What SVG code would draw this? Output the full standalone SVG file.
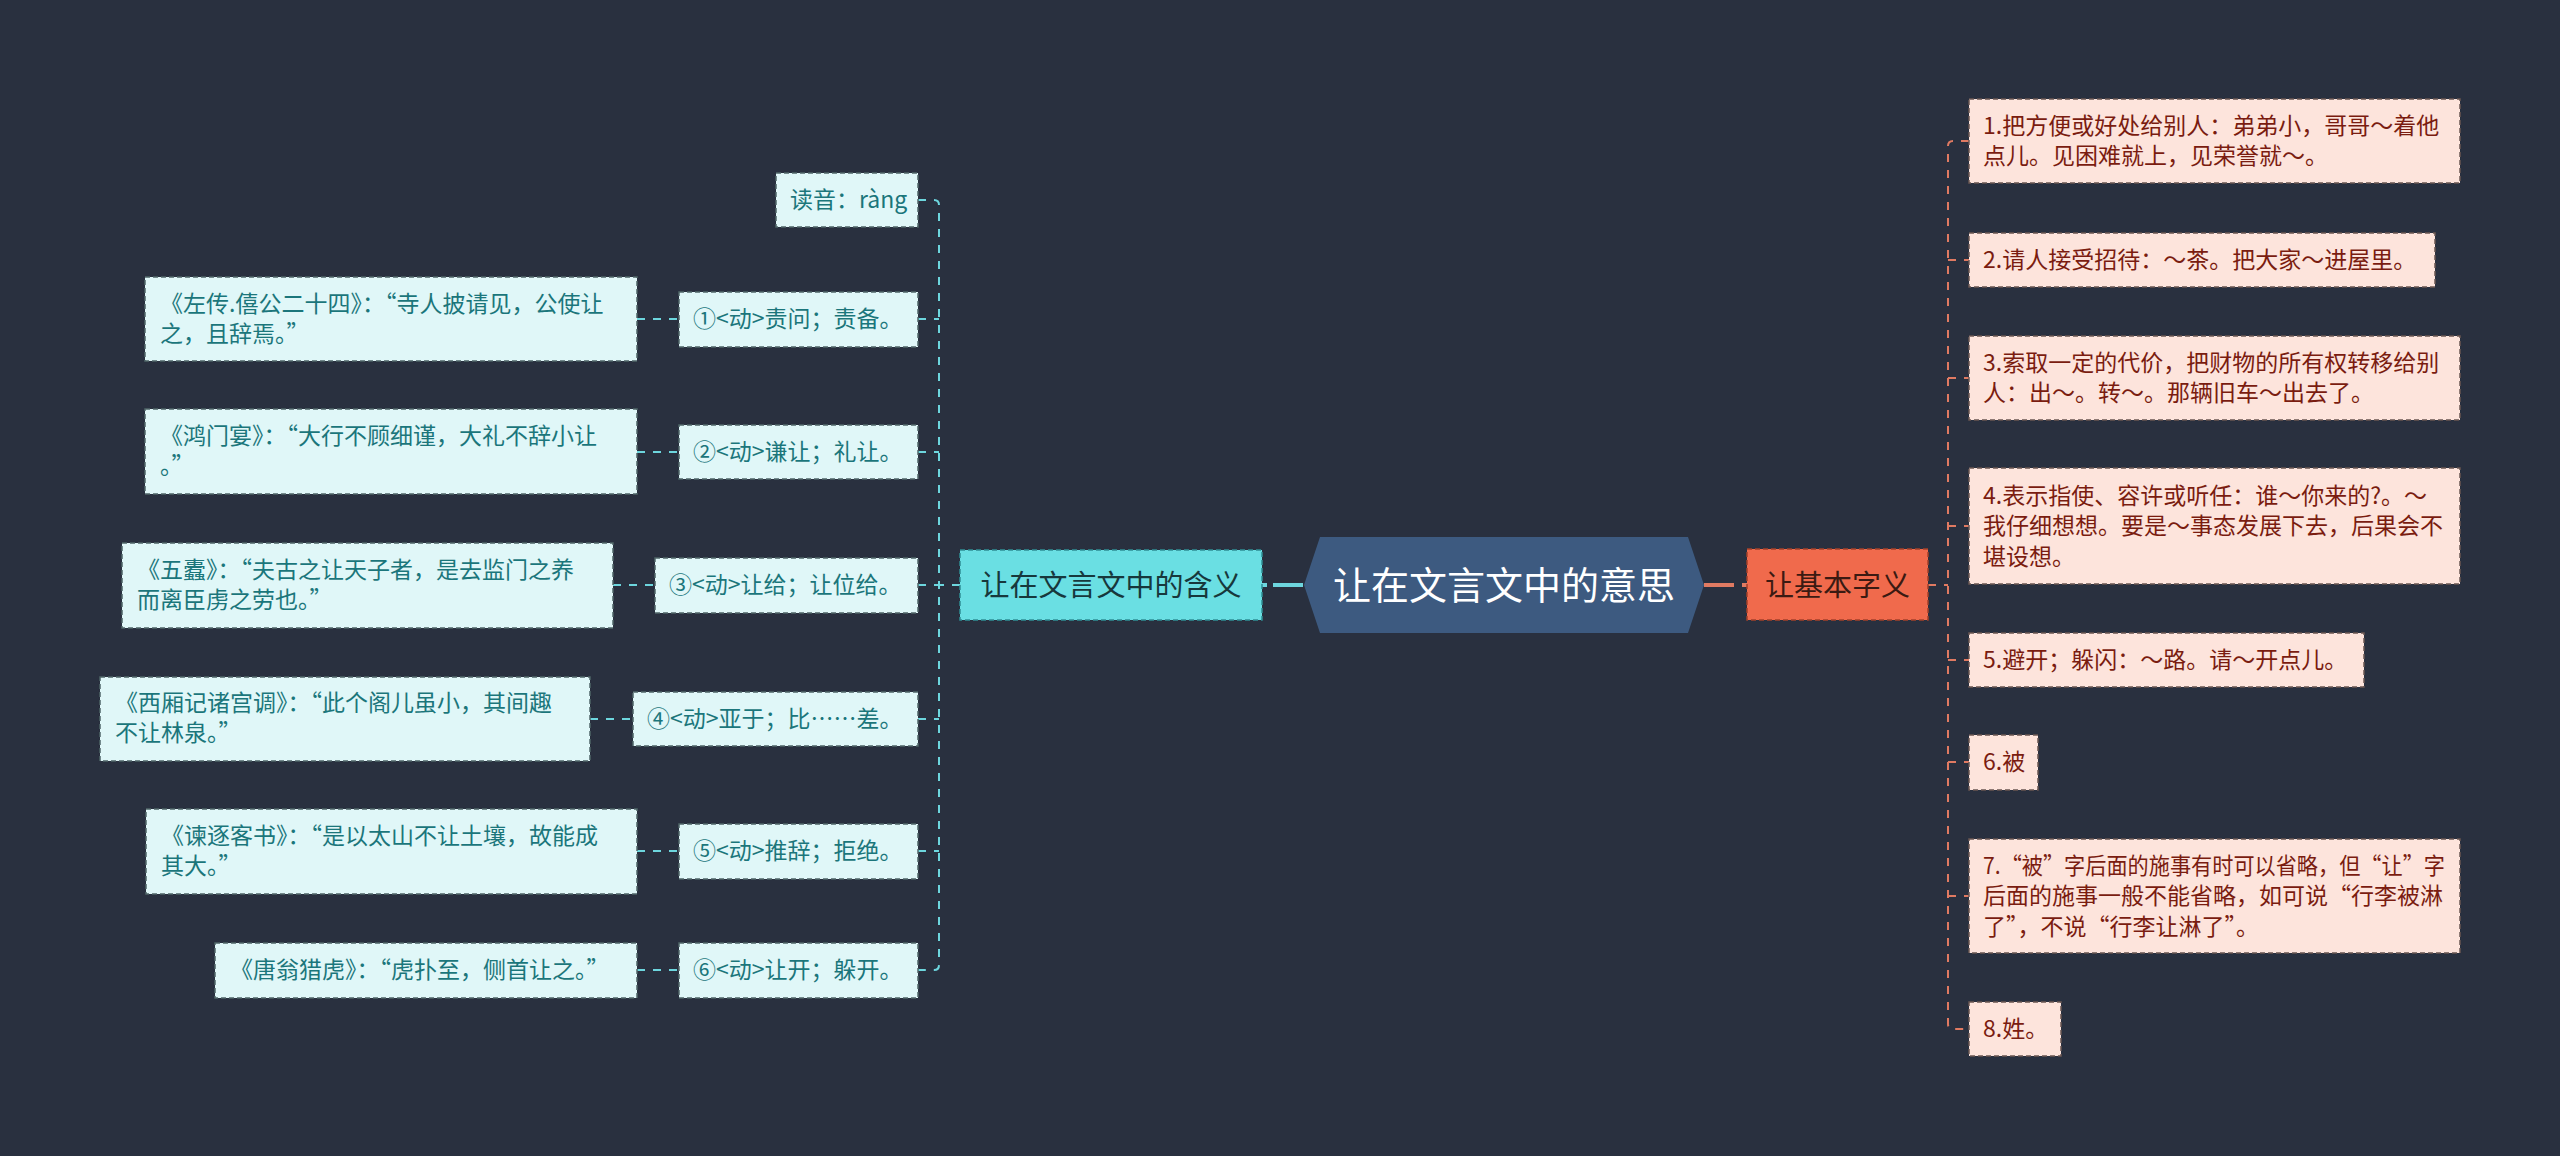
<svg xmlns="http://www.w3.org/2000/svg" width="2560" height="1156" viewBox="0 0 2560 1156">
<style>
text{font-family:"Noto Sans CJK SC","Noto Sans",sans-serif;}
.bg{fill:#29303f;}
.lbox{fill:#e0f7f8;stroke:#4f6668;stroke-width:1.5;stroke-dasharray:5 3;}
.ltxt{fill:#1b767b;font-size:23px;}
.rbox{fill:#fde4dc;stroke:#6a5552;stroke-width:1.5;stroke-dasharray:5 3;}
.rtxt{fill:#7a1c10;font-size:23px;}
.lc{fill:none;stroke:#6dd6de;stroke-width:2;stroke-dasharray:8 8;}
.rc{fill:none;stroke:#e07a62;stroke-width:2;stroke-dasharray:8 8;}
</style>
<rect class="bg" x="0" y="0" width="2560" height="1156"/>

<g id="connectors">
  <path d="M1303,585 H1262" stroke="#6dd6de" stroke-width="4" stroke-dasharray="30 6 6 100" fill="none"/>
  <path d="M1704,585 H1747" stroke="#e07a62" stroke-width="4" stroke-dasharray="30 8 6 100" fill="none"/>
  <path class="lc" d="M960,585 H939"/>
  <path class="lc" d="M918,200 H934 Q939,200 939,205 V965 Q939,970 934,970 H918"/>
  <path class="lc" d="M918,319 H939"/>
  <path class="lc" d="M918,452 H939"/>
  <path class="lc" d="M918,585 H939"/>
  <path class="lc" d="M918,719 H939"/>
  <path class="lc" d="M918,851 H939"/>
  <path class="lc" d="M637,319 H679"/>
  <path class="lc" d="M637,452 H679"/>
  <path class="lc" d="M613,585 H655"/>
  <path class="lc" d="M590,719 H633"/>
  <path class="lc" d="M637,851 H679"/>
  <path class="lc" d="M637,970 H679"/>
  <path class="rc" d="M1928,585 H1948"/>
  <path class="rc" d="M1969,141 H1953 Q1948,141 1948,146 V1024 Q1948,1029 1953,1029 H1969"/>
  <path class="rc" d="M1948,260 H1969"/>
  <path class="rc" d="M1948,378 H1969"/>
  <path class="rc" d="M1948,526 H1969"/>
  <path class="rc" d="M1948,660 H1969"/>
  <path class="rc" d="M1948,762 H1969"/>
  <path class="rc" d="M1948,896 H1969"/>
</g>

<g id="root">
  <polygon points="1304,585 1320,537 1688,537 1704,585 1688,633 1320,633" fill="#3d5a80"/>
  <text x="1504" y="599" text-anchor="middle" font-size="38" fill="#ffffff">让在文言文中的意思</text>
</g>

<g id="branch-left">
  <rect x="960" y="550" width="302" height="70" fill="#6adfe3" stroke="#2f8e95" stroke-width="1.5" stroke-dasharray="5 3"/>
  <text x="1111" y="596" text-anchor="middle" font-size="29" fill="#17383c">让在文言文中的含义</text>
</g>

<g id="branch-right">
  <rect x="1747" y="549" width="181" height="71" fill="#f06a4c" stroke="#a3402a" stroke-width="1.5" stroke-dasharray="5 3"/>
  <text x="1837.5" y="596" text-anchor="middle" font-size="29" fill="#3b1a12">让基本字义</text>
</g>

<g id="l-duyin">
  <rect class="lbox" x="776" y="173" width="142" height="54"/>
  <text class="ltxt" x="790" y="208">读音：ràng</text>
</g>
<g id="l-1">
  <rect class="lbox" x="679" y="292" width="239" height="55"/>
  <text class="ltxt" x="693" y="327">①&lt;动&gt;责问；责备。</text>
</g>
<g id="l-2">
  <rect class="lbox" x="679" y="425" width="239" height="54"/>
  <text class="ltxt" x="693" y="460">②&lt;动&gt;谦让；礼让。</text>
</g>
<g id="l-3">
  <rect class="lbox" x="655" y="558" width="263" height="55"/>
  <text class="ltxt" x="669" y="593">③&lt;动&gt;让给；让位给。</text>
</g>
<g id="l-4">
  <rect class="lbox" x="633" y="692" width="285" height="54"/>
  <text class="ltxt" x="647" y="727">④&lt;动&gt;亚于；比……差。</text>
</g>
<g id="l-5">
  <rect class="lbox" x="679" y="824" width="239" height="55"/>
  <text class="ltxt" x="693" y="859">⑤&lt;动&gt;推辞；拒绝。</text>
</g>
<g id="l-6">
  <rect class="lbox" x="679" y="943" width="239" height="55"/>
  <text class="ltxt" x="693" y="978">⑥&lt;动&gt;让开；躲开。</text>
</g>

<g id="q-1">
  <rect class="lbox" x="145" y="277" width="492" height="84"/>
  <text class="ltxt"><tspan x="160" y="312">《左传.僖公二十四》：“寺人披请见，公使让</tspan><tspan x="160" y="342">之，且辞焉。”</tspan></text>
</g>
<g id="q-2">
  <rect class="lbox" x="145" y="409" width="492" height="85"/>
  <text class="ltxt"><tspan x="160" y="444">《鸿门宴》：“大行不顾细谨，大礼不辞小让</tspan><tspan x="160" y="474">。”</tspan></text>
</g>
<g id="q-3">
  <rect class="lbox" x="122" y="543" width="491" height="85"/>
  <text class="ltxt"><tspan x="137" y="578">《五蠹》：“夫古之让天子者，是去监门之养</tspan><tspan x="137" y="608">而离臣虏之劳也。”</tspan></text>
</g>
<g id="q-4">
  <rect class="lbox" x="100" y="677" width="490" height="84"/>
  <text class="ltxt"><tspan x="115" y="711">《西厢记诸宫调》：“此个阁儿虽小，其间趣</tspan><tspan x="115" y="741">不让林泉。”</tspan></text>
</g>
<g id="q-5">
  <rect class="lbox" x="146" y="809" width="491" height="85"/>
  <text class="ltxt"><tspan x="161" y="844">《谏逐客书》：“是以太山不让土壤，故能成</tspan><tspan x="161" y="874">其大。”</tspan></text>
</g>
<g id="q-6">
  <rect class="lbox" x="215" y="943" width="422" height="55"/>
  <text class="ltxt" x="230" y="978">《唐翁猎虎》：“虎扑至，侧首让之。”</text>
</g>

<g id="r-1">
  <rect class="rbox" x="1969" y="99" width="491" height="84"/>
  <text class="rtxt"><tspan x="1983" y="134">1.把方便或好处给别人：弟弟小，哥哥～着他</tspan><tspan x="1983" y="164">点儿。见困难就上，见荣誉就～。</tspan></text>
</g>
<g id="r-2">
  <rect class="rbox" x="1969" y="233" width="466" height="54"/>
  <text class="rtxt" x="1983" y="268">2.请人接受招待：～茶。把大家～进屋里。</text>
</g>
<g id="r-3">
  <rect class="rbox" x="1969" y="336" width="491" height="84"/>
  <text class="rtxt"><tspan x="1983" y="371">3.索取一定的代价，把财物的所有权转移给别</tspan><tspan x="1983" y="401">人：出～。转～。那辆旧车～出去了。</tspan></text>
</g>
<g id="r-4">
  <rect class="rbox" x="1969" y="468" width="491" height="116"/>
  <text class="rtxt"><tspan x="1983" y="504">4.表示指使、容许或听任：谁～你来的?。～</tspan><tspan x="1983" y="534">我仔细想想。要是～事态发展下去，后果会不</tspan><tspan x="1983" y="565">堪设想。</tspan></text>
</g>
<g id="r-5">
  <rect class="rbox" x="1969" y="633" width="395" height="54"/>
  <text class="rtxt" x="1983" y="668">5.避开；躲闪：～路。请～开点儿。</text>
</g>
<g id="r-6">
  <rect class="rbox" x="1969" y="735" width="69" height="55"/>
  <text class="rtxt" x="1983" y="770">6.被</text>
</g>
<g id="r-7">
  <rect class="rbox" x="1969" y="839" width="491" height="114"/>
  <text class="rtxt"><tspan x="1983" y="874" textLength="462" lengthAdjust="spacingAndGlyphs">7.“被”字后面的施事有时可以省略，但“让”字</tspan><tspan x="1983" y="904">后面的施事一般不能省略，如可说“行李被淋</tspan><tspan x="1983" y="935">了”，不说“行李让淋了”。</tspan></text>
</g>
<g id="r-8">
  <rect class="rbox" x="1969" y="1002" width="92" height="54"/>
  <text class="rtxt" x="1983" y="1037">8.姓。</text>
</g>
</svg>
